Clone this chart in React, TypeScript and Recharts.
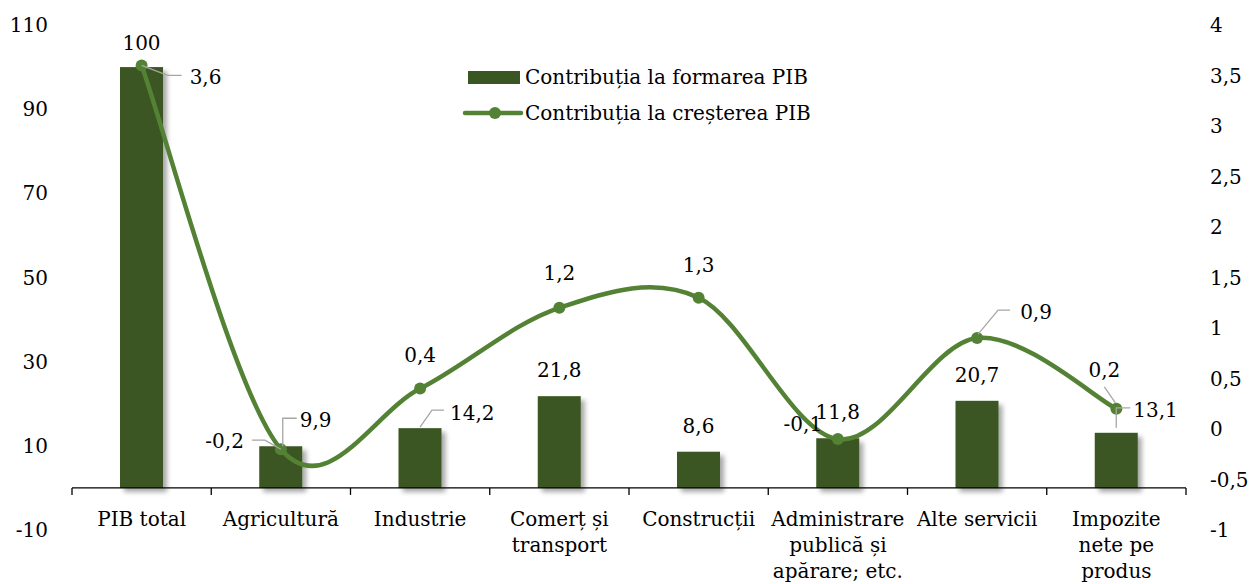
import React from 'react';
import {
  ComposedChart,
  Bar,
  Line,
  XAxis,
  YAxis,
  ReferenceLine,
  LabelList,
  Legend,
} from 'recharts';

document.body.style.margin = '0';

// data
const categories = [
  'PIB total',
  'Agricultură',
  'Industrie',
  'Comerț și\ntransport',
  'Construcții',
  'Administrare\npublică și\napărare; etc.',
  'Alte servicii',
  'Impozite\nnete pe\nprodus',
];
const formarePIB = [100, 9.9, 14.2, 21.8, 8.6, 11.8, 20.7, 13.1];
const crestere = [3.6, -0.2, 0.4, 1.2, 1.3, -0.1, 0.9, 0.2];
const leftTicks = [-10, 10, 30, 50, 70, 90, 110];
const rightTicks = [-1, -0.5, 0, 0.5, 1, 1.5, 2, 2.5, 3, 3.5, 4];

const data = categories.map((cat, i) => ({ cat, formare: formarePIB[i], crestere: crestere[i] }));

const FONT = '"DejaVu Serif", serif';
const FS = 20;
const BAR_COLOR = '#3A5723';
const LINE_COLOR = '#548235';
const LEADER = '#A6A6A6';

// layout
const W = 1250;
const H = 584;
const M = { top: 25, right: 0, bottom: 0, left: 12 };
const Y_LEFT_W = 60;
const Y_RIGHT_W = 64;
const X_AXIS_H = 54;
const PLOT_L = M.left + Y_LEFT_W;
const PLOT_R = W - M.right - Y_RIGHT_W;
const PLOT_T = M.top;
const PLOT_B = H - M.bottom - X_AXIS_H;
const BAND = (PLOT_R - PLOT_L) / categories.length;
const ZERO_Y = PLOT_T + ((110 - 0) / (110 - -10)) * (PLOT_B - PLOT_T);

const fmt = (v: number) => String(v).replace('.', ',');

// label placement (offsets from bar top / point), leader lines as offsets too
type LabelPos = { dx: number; dy: number; anchor: 'start' | 'middle' | 'end'; leader?: number[][] };
const barLabelPos: LabelPos[] = [
  { dx: 0, dy: -24, anchor: 'middle' },
  { dx: 19, dy: -26, anchor: 'start', leader: [[2, 0], [2, -28], [16, -28]] },
  { dx: 30, dy: -15, anchor: 'start', leader: [[0, -1], [12, -18], [24, -18]] },
  { dx: 0, dy: -26, anchor: 'middle' },
  { dx: 0, dy: -26, anchor: 'middle' },
  { dx: 0, dy: -26, anchor: 'middle' },
  { dx: 0, dy: -26, anchor: 'middle' },
  { dx: 17, dy: -23, anchor: 'start', leader: [[0, -5], [0, -25], [14, -25]] },
];
const lineLabelPos: LabelPos[] = [
  { dx: 48, dy: 12, anchor: 'start', leader: [[0, 0], [26, 10], [40, 10]] },
  { dx: -37, dy: -8, anchor: 'end', leader: [[0, 0], [-16, -9], [-29, -9]] },
  { dx: 0, dy: -34, anchor: 'middle' },
  { dx: 0, dy: -35, anchor: 'middle' },
  { dx: 0, dy: -33, anchor: 'middle' },
  { dx: -35, dy: -15, anchor: 'middle' },
  { dx: 43, dy: -26, anchor: 'start', leader: [[1, -4], [21, -28], [33, -28]] },
  { dx: -12, dy: -39, anchor: 'middle', leader: [[-12, -22], [-1, -6]] },
];

const makeLabel = (positions: LabelPos[], isBar: boolean) => (props: any) => {
  const vb = props.viewBox || {};
  const x = props.x ?? vb.x;
  const y = props.y ?? vb.y;
  const w = props.width ?? vb.width ?? 0;
  const { index, value } = props;
  const p = positions[index];
  if (!p || value == null) return null;
  const ax = isBar ? x + w / 2 : x;
  const ay = y;
  return (
    <g>
      {p.leader && (
        <polyline
          points={p.leader.map(([a, b]) => `${ax + a},${ay + b}`).join(' ')}
          fill="none"
          stroke={LEADER}
          strokeWidth={1.3}
        />
      )}
      <text
        x={ax + p.dx}
        y={ay + p.dy}
        textAnchor={p.anchor}
        dominantBaseline="central"
        fontFamily={FONT}
        fontSize={FS}
        fill="#000"
      >
        {fmt(value)}
      </text>
    </g>
  );
};

// excel-like smoothed line (catmull-rom through the points)
const smoothCurve: any = (ctx: any) => {
  let pts: number[][] = [];
  return {
    areaStart() {},
    areaEnd() {},
    lineStart() {
      pts = [];
    },
    point(x: number, y: number) {
      pts.push([+x, +y]);
    },
    lineEnd() {
      if (!pts.length) return;
      ctx.moveTo(pts[0][0], pts[0][1]);
      const t = 1 / 6;
      for (let i = 0; i < pts.length - 1; i++) {
        const p0 = pts[i - 1] || pts[i];
        const p1 = pts[i];
        const p2 = pts[i + 1];
        const p3 = pts[i + 2] || p2;
        ctx.bezierCurveTo(
          p1[0] + (p2[0] - p0[0]) * t,
          p1[1] + (p2[1] - p0[1]) * t,
          p2[0] - (p3[0] - p1[0]) * t,
          p2[1] - (p3[1] - p1[1]) * t,
          p2[0],
          p2[1]
        );
      }
    },
  };
};

const CategoryTick = (props: any) => {
  const { x, index, payload } = props;
  const lines = String(payload.value).split('\n');
  const n = categories.length;
  return (
    <g>
      <line x1={x - BAND / 2} y1={ZERO_Y} x2={x - BAND / 2} y2={ZERO_Y + 7} stroke="#000" strokeWidth={1.3} />
      {index === n - 1 && (
        <line x1={x + BAND / 2} y1={ZERO_Y} x2={x + BAND / 2} y2={ZERO_Y + 7} stroke="#000" strokeWidth={1.3} />
      )}
      <text x={x} y={ZERO_Y + 38} textAnchor="middle" fontFamily={FONT} fontSize={FS} fill="#000">
        {lines.map((l, i) => (
          <tspan key={i} x={x} dy={i === 0 ? 0 : 26}>
            {l}
          </tspan>
        ))}
      </text>
    </g>
  );
};

// bars with a soft drop shadow like the excel original
const BarShape = (props: any) => {
  const { x, y, width, height, index } = props;
  const id = `barShadow${index}`;
  return (
    <g>
      <defs>
        <filter id={id} x="-30%" y="-20%" width="170%" height="150%">
          <feGaussianBlur in="SourceAlpha" stdDeviation={2.5} />
          <feOffset dx={4} dy={4} result="blur" />
          <feComponentTransfer>
            <feFuncA type="linear" slope={0.35} />
          </feComponentTransfer>
          <feMerge>
            <feMergeNode />
            <feMergeNode in="SourceGraphic" />
          </feMerge>
        </filter>
      </defs>
      <rect x={x} y={y} width={width} height={height} fill={BAR_COLOR} filter={`url(#${id})`} />
    </g>
  );
};

const LegendBox = () => (
  <div style={{ fontFamily: FONT, fontSize: FS, color: '#000', lineHeight: 1 }}>
    <div style={{ display: 'flex', alignItems: 'center', height: 36 }}>
      <svg width={65} height={20}>
        <rect x={8} y={4} width={52} height={13} fill={BAR_COLOR} />
      </svg>
      <span>Contribuția la formarea PIB</span>
    </div>
    <div style={{ display: 'flex', alignItems: 'center', height: 36 }}>
      <svg width={65} height={20}>
        <line x1={5} y1={10} x2={61} y2={10} stroke={LINE_COLOR} strokeWidth={4.5} strokeLinecap="round" />
        <circle cx={35} cy={10} r={6} fill={LINE_COLOR} />
      </svg>
      <span>Contribuția la creșterea PIB</span>
    </div>
  </div>
);

export default function App() {
  return (
    <ComposedChart width={W} height={H} data={data} margin={M}>
      <XAxis
        dataKey="cat"
        xAxisId="x"
        height={X_AXIS_H}
        axisLine={false}
        tickLine={false}
        interval={0}
        tick={<CategoryTick />}
      />
      <YAxis
        yAxisId="left"
        orientation="left"
        width={Y_LEFT_W}
        domain={[-10, 110]}
        ticks={leftTicks}
        axisLine={false}
        tickLine={false}
        tickSize={0}
        tickMargin={24}
        tick={{ fill: '#000', fontSize: FS, fontFamily: FONT }}
      />
      <YAxis
        yAxisId="right"
        orientation="right"
        width={Y_RIGHT_W}
        domain={[-1, 4]}
        ticks={rightTicks}
        axisLine={false}
        tickLine={false}
        tickSize={0}
        tickMargin={24}
        tickFormatter={fmt}
        tick={{ fill: '#000', fontSize: FS, fontFamily: FONT, textAnchor: 'start' }}
      />
      <Legend
        layout="vertical"
        align="center"
        verticalAlign="middle"
        content={<LegendBox />}
        wrapperStyle={{ left: 460, top: 59, width: 400 }}
      />
      <Bar
        xAxisId="x"
        yAxisId="left"
        dataKey="formare"
        barSize={43}
        fill={BAR_COLOR}
        shape={<BarShape />}
        isAnimationActive={false}
      >
        <LabelList dataKey="formare" content={makeLabel(barLabelPos, true)} />
      </Bar>
      <ReferenceLine xAxisId="x" yAxisId="left" y={0} stroke="#000" strokeWidth={1.3} />
      <Line
        xAxisId="x"
        yAxisId="right"
        dataKey="crestere"
        type={smoothCurve}
        stroke={LINE_COLOR}
        strokeWidth={4.5}
        dot={{ r: 6, fill: LINE_COLOR, stroke: LINE_COLOR, strokeWidth: 0 }}
        activeDot={false}
        isAnimationActive={false}
      >
        <LabelList dataKey="crestere" content={makeLabel(lineLabelPos, false)} />
      </Line>
    </ComposedChart>
  );
}
